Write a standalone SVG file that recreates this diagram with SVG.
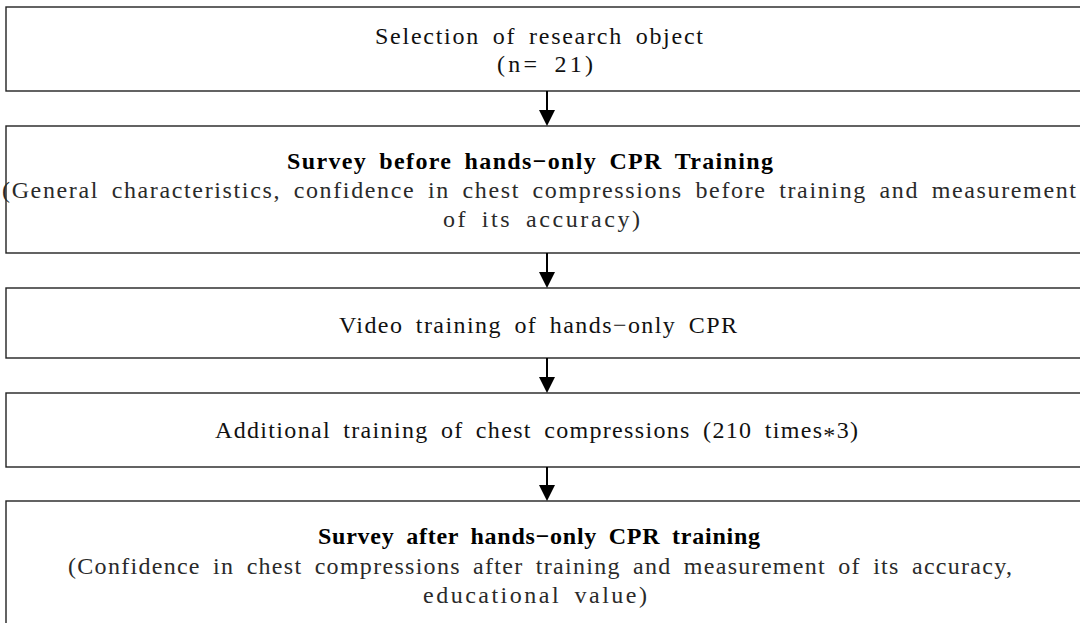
<svg xmlns="http://www.w3.org/2000/svg" width="1080" height="623" viewBox="0 0 1080 623">
<defs>
<style>
.box{fill:#fff;stroke:#222;stroke-width:1.4}
.t{font-family:"Liberation Serif","DejaVu Serif",serif;font-size:24px;fill:#111;word-spacing:5px}
.b{font-weight:bold;fill:#000}
.s{fill:#2a2a2a}
.conn line{stroke:#000;stroke-width:2}
.conn polygon{fill:#000}
</style>
</defs>
<rect width="1080" height="623" fill="#fff"/>
<g id="node1">
<rect class="box" x="6" y="7" width="1090" height="84"/>
<text class="t" x="375" y="44" textLength="328" lengthAdjust="spacing">Selection of research object</text>
<text class="t" x="497" y="72" textLength="96" lengthAdjust="spacing">(n= 21)</text>
</g>
<g id="node2">
<rect class="box" x="6" y="126" width="1090" height="127"/>
<text class="t b" x="287" y="169" textLength="486" lengthAdjust="spacing">Survey before hands−only CPR Training</text>
<text class="t s" x="2" y="198" textLength="1074" lengthAdjust="spacing">(General characteristics, confidence in chest compressions before training and measurement</text>
<text class="t s" x="443" y="227" textLength="197" lengthAdjust="spacing">of its accuracy)</text>
</g>
<g id="node3">
<rect class="box" x="6" y="288" width="1090" height="70"/>
<text class="t" x="339" y="333" textLength="398" lengthAdjust="spacing">Video training of hands−only CPR</text>
</g>
<g id="node4">
<rect class="box" x="6" y="393" width="1090" height="74"/>
<text class="t" x="215" y="438" textLength="643" lengthAdjust="spacing">Additional training of chest compressions (210 times<tspan dy="5">*</tspan><tspan dy="-5">3)</tspan></text>
</g>
<g id="node5">
<rect class="box" x="6" y="501" width="1090" height="140"/>
<text class="t b" x="318" y="544" textLength="442" lengthAdjust="spacing">Survey after hands−only CPR training</text>
<text class="t s" x="68" y="574" textLength="944" lengthAdjust="spacing">(Confidence in chest compressions after training and measurement of its accuracy,</text>
<text class="t s" x="423" y="603" textLength="224" lengthAdjust="spacing">educational value)</text>
</g>
<g class="conn" id="connectors">
<line x1="547" y1="91" x2="547" y2="112"/><polygon points="539,110 555,110 547,126"/>
<line x1="547" y1="253" x2="547" y2="274"/><polygon points="539,272 555,272 547,288"/>
<line x1="547" y1="358" x2="547" y2="379"/><polygon points="539,377 555,377 547,393"/>
<line x1="547" y1="467" x2="547" y2="487"/><polygon points="539,485 555,485 547,501"/>
</g>
</svg>
